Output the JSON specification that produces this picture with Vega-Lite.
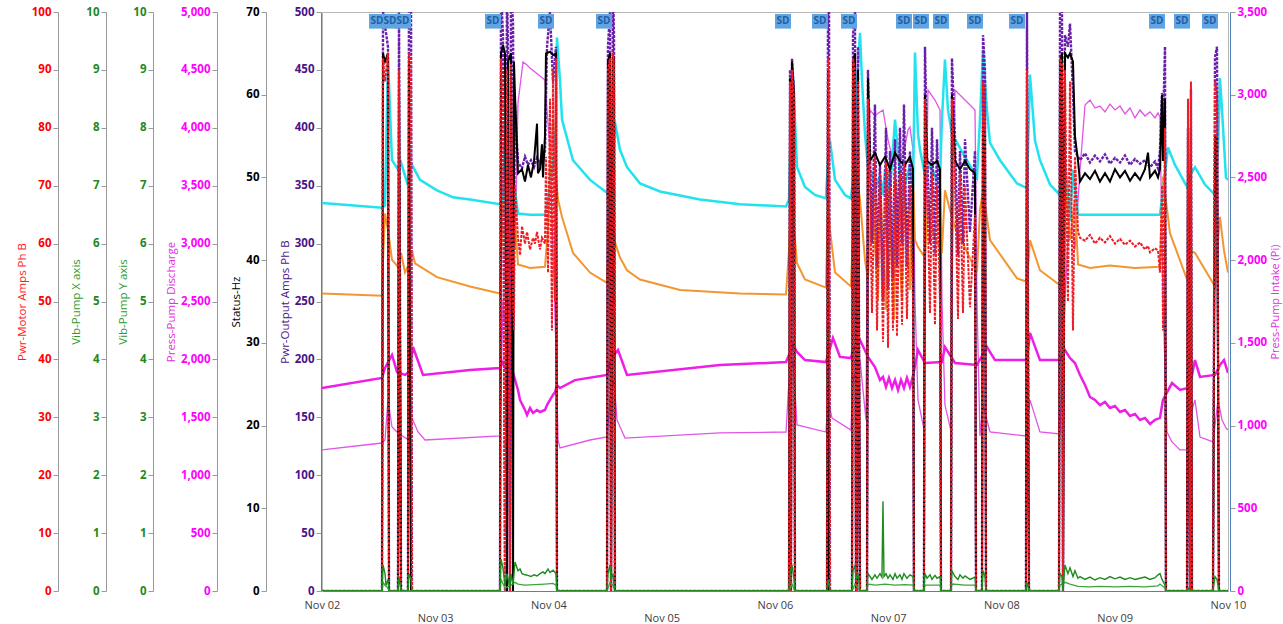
{
"$schema": "https://vega.github.io/schema/vega-lite/v6.json",
"width": 906, "height": 579,
"autosize": {"type": "none"},
"padding": {"left": 322, "top": 12, "right": 55, "bottom": 33},
"background": "white",
"config": {
  "view": {"stroke": "#b8b8b8"},
  "axis": {"grid": false, "domainColor": "#9a9a9a", "tickColor": "#9a9a9a", "tickSize": 5, "labelFont": "Open Sans", "titleFont": "Open Sans", "labelFontWeight": "bold", "labelFontSize": 11.5, "titleFontWeight": "normal", "titleFontSize": 11.5}
},
"encoding": {
  "x": {"field": "time", "type": "temporal", "title": null,
    "scale": {"domain": [{"year": 2023, "month": 11, "date": 2}, {"year": 2023, "month": 11, "date": 10}]},
    "axis": {"format": "%b %d", "tickCount": {"interval": "day", "step": 1}, "ticks": false, "labelFontWeight": "normal", "labelColor": "#404040", "labelFontSize": 11, "domainColor": "#4f81bd", "labelOverlap": false, "labelFlush": false,
      "labelPadding": {"condition": {"test": "date(datum.value) % 2 === 1", "value": 21}, "value": 8}}}
},
"resolve": {"scale": {"y": "independent"}, "axis": {"y": "independent"}},
"layer": [
{
  "data": {"values": [
{"time":"2023-11-02T00:00","value":1218},{"time":"2023-11-02T12:43","value":1278},{"time":"2023-11-02T13:21","value":1304},{"time":"2023-11-02T13:59","value":1650},{"time":"2023-11-02T14:50","value":1416},{"time":"2023-11-02T16:06","value":1364},{"time":"2023-11-02T18:01","value":1313},{"time":"2023-11-02T19:04","value":1494},{"time":"2023-11-02T20:21","value":1373},{"time":"2023-11-02T21:50","value":1304},{"time":"2023-11-03T13:43","value":1339},{"time":"2023-11-03T14:21","value":2513},{"time":"2023-11-03T15:12","value":2081},{"time":"2023-11-03T16:03","value":3377},{"time":"2023-11-03T16:54","value":2945},{"time":"2023-11-03T17:32","value":4214},{"time":"2023-11-03T18:36","value":4568},{"time":"2023-11-03T19:27","value":4542},{"time":"2023-11-03T20:05","value":4517},{"time":"2023-11-03T21:08","value":4482},{"time":"2023-11-03T22:12","value":4448},{"time":"2023-11-03T23:15","value":4413},{"time":"2023-11-03T23:41","value":4154},{"time":"2023-11-04T00:19","value":3808},{"time":"2023-11-04T00:57","value":2945},{"time":"2023-11-04T01:35","value":2081},{"time":"2023-11-04T02:01","value":1304},{"time":"2023-11-04T02:26","value":1235},{"time":"2023-11-04T08:48","value":1304},{"time":"2023-11-04T12:24","value":1330},{"time":"2023-11-04T13:02","value":1650},{"time":"2023-11-04T13:53","value":1822},{"time":"2023-11-04T14:31","value":1477},{"time":"2023-11-04T16:13","value":1321},{"time":"2023-11-05T12:21","value":1365},{"time":"2023-11-06T02:20","value":1373},{"time":"2023-11-06T02:58","value":1822},{"time":"2023-11-06T03:49","value":1995},{"time":"2023-11-06T04:40","value":1434},{"time":"2023-11-06T10:48","value":1373},{"time":"2023-11-06T11:14","value":1650},{"time":"2023-11-06T12:05","value":1494},{"time":"2023-11-06T16:06","value":1390},{"time":"2023-11-06T16:32","value":1822},{"time":"2023-11-06T18:01","value":1995},{"time":"2023-11-06T19:17","value":1477},{"time":"2023-11-06T19:42","value":3808},{"time":"2023-11-06T20:08","value":4154},{"time":"2023-11-06T21:11","value":4100},{"time":"2023-11-06T21:37","value":4120},{"time":"2023-11-06T22:53","value":4154},{"time":"2023-11-06T23:57","value":3895},{"time":"2023-11-07T01:00","value":3722},{"time":"2023-11-07T01:51","value":3765},{"time":"2023-11-07T03:07","value":3749},{"time":"2023-11-07T04:11","value":3981},{"time":"2023-11-07T04:36","value":4007},{"time":"2023-11-07T05:15","value":3808},{"time":"2023-11-07T05:40","value":2513},{"time":"2023-11-07T06:18","value":1650},{"time":"2023-11-07T07:34","value":1400},{"time":"2023-11-07T07:47","value":2513},{"time":"2023-11-07T08:25","value":4326},{"time":"2023-11-07T09:54","value":4240},{"time":"2023-11-07T10:58","value":4154},{"time":"2023-11-07T11:23","value":2513},{"time":"2023-11-07T12:01","value":1606},{"time":"2023-11-07T13:18","value":1380},{"time":"2023-11-07T13:30","value":2513},{"time":"2023-11-07T14:09","value":4326},{"time":"2023-11-07T16:16","value":4240},{"time":"2023-11-07T18:23","value":4154},{"time":"2023-11-07T18:48","value":2513},{"time":"2023-11-07T19:26","value":1339},{"time":"2023-11-07T20:05","value":1606},{"time":"2023-11-07T21:34","value":1373},{"time":"2023-11-08T05:11","value":1339},{"time":"2023-11-08T06:02","value":1650},{"time":"2023-11-08T08:09","value":1373},{"time":"2023-11-08T12:24","value":1356},{"time":"2023-11-08T13:27","value":2513},{"time":"2023-11-08T14:31","value":3377},{"time":"2023-11-08T15:34","value":2945},{"time":"2023-11-08T16:38","value":3636},{"time":"2023-11-08T17:42","value":4197},{"time":"2023-11-08T18:45","value":4240},{"time":"2023-11-08T19:49","value":4171},{"time":"2023-11-08T20:52","value":4188},{"time":"2023-11-08T21:56","value":4137},{"time":"2023-11-08T22:59","value":4205},{"time":"2023-11-09T00:03","value":4154},{"time":"2023-11-09T01:07","value":4188},{"time":"2023-11-09T02:10","value":4120},{"time":"2023-11-09T03:14","value":4171},{"time":"2023-11-09T04:17","value":4085},{"time":"2023-11-09T05:21","value":4154},{"time":"2023-11-09T06:24","value":4102},{"time":"2023-11-09T07:28","value":4137},{"time":"2023-11-09T08:32","value":4085},{"time":"2023-11-09T09:10","value":4128},{"time":"2023-11-09T09:35","value":4093},{"time":"2023-11-09T10:13","value":2513},{"time":"2023-11-09T11:04","value":1373},{"time":"2023-11-09T12:08","value":1287},{"time":"2023-11-09T13:50","value":1218},{"time":"2023-11-09T15:31","value":1218},{"time":"2023-11-09T16:22","value":1563},{"time":"2023-11-09T17:00","value":1650},{"time":"2023-11-09T18:04","value":1330},{"time":"2023-11-09T20:49","value":1287},{"time":"2023-11-09T21:53","value":1650},{"time":"2023-11-09T22:44","value":1477},{"time":"2023-11-09T23:34","value":1408},{"time":"2023-11-10T00:00","value":1390}
  ]},
  "mark": {"type": "line", "color": "#e255e6", "strokeWidth": 1.3, "clip": true},
  "encoding": {"y": {"field": "value", "type": "quantitative", "scale": {"domain": [0, 5000], "nice": false},
    "axis": {"orient": "left", "offset": 105, "title": "Press-Pump Discharge", "values": [0,500,1000,1500,2000,2500,3000,3500,4000,4500,5000], "format": ",.0f", "labelColor": "#ff00ff", "titleColor": "#e030e0"}}}
},
{
  "data": {"values": [
{"time":"2023-11-02T00:00","value":257},{"time":"2023-11-02T12:43","value":255},{"time":"2023-11-02T12:56","value":286},{"time":"2023-11-02T13:21","value":326},{"time":"2023-11-02T13:59","value":312},{"time":"2023-11-02T14:50","value":286},{"time":"2023-11-02T16:06","value":280},{"time":"2023-11-02T16:45","value":292},{"time":"2023-11-02T17:35","value":275},{"time":"2023-11-02T18:26","value":282},{"time":"2023-11-02T19:04","value":294},{"time":"2023-11-02T19:42","value":283},{"time":"2023-11-03T00:22","value":271},{"time":"2023-11-03T07:22","value":263},{"time":"2023-11-03T13:43","value":257},{"time":"2023-11-03T14:09","value":312},{"time":"2023-11-03T14:47","value":398},{"time":"2023-11-03T15:25","value":338},{"time":"2023-11-03T16:03","value":381},{"time":"2023-11-03T16:54","value":320},{"time":"2023-11-03T17:32","value":282},{"time":"2023-11-03T20:05","value":279},{"time":"2023-11-03T23:15","value":280},{"time":"2023-11-03T23:54","value":312},{"time":"2023-11-04T00:19","value":364},{"time":"2023-11-04T00:57","value":407},{"time":"2023-11-04T01:35","value":358},{"time":"2023-11-04T02:01","value":338},{"time":"2023-11-04T02:52","value":323},{"time":"2023-11-04T05:11","value":292},{"time":"2023-11-04T08:48","value":275},{"time":"2023-11-04T12:24","value":266},{"time":"2023-11-04T12:49","value":312},{"time":"2023-11-04T13:27","value":326},{"time":"2023-11-04T14:05","value":301},{"time":"2023-11-04T15:09","value":288},{"time":"2023-11-04T16:38","value":277},{"time":"2023-11-04T19:23","value":269},{"time":"2023-11-05T03:52","value":260},{"time":"2023-11-05T16:35","value":257},{"time":"2023-11-06T02:20","value":256},{"time":"2023-11-06T02:58","value":294},{"time":"2023-11-06T03:23","value":338},{"time":"2023-11-06T04:14","value":303},{"time":"2023-11-06T04:40","value":283},{"time":"2023-11-06T06:21","value":269},{"time":"2023-11-06T10:48","value":262},{"time":"2023-11-06T11:14","value":338},{"time":"2023-11-06T11:39","value":312},{"time":"2023-11-06T12:43","value":275},{"time":"2023-11-06T16:06","value":263},{"time":"2023-11-06T16:32","value":312},{"time":"2023-11-06T17:10","value":364},{"time":"2023-11-06T18:01","value":338},{"time":"2023-11-06T19:04","value":286},{"time":"2023-11-06T19:42","value":269},{"time":"2023-11-06T20:33","value":346},{"time":"2023-11-06T21:50","value":251},{"time":"2023-11-06T22:15","value":355},{"time":"2023-11-06T23:31","value":243},{"time":"2023-11-06T23:57","value":364},{"time":"2023-11-07T01:13","value":234},{"time":"2023-11-07T01:38","value":355},{"time":"2023-11-07T02:55","value":251},{"time":"2023-11-07T03:20","value":359},{"time":"2023-11-07T04:36","value":260},{"time":"2023-11-07T05:15","value":359},{"time":"2023-11-07T05:40","value":303},{"time":"2023-11-07T06:18","value":297},{"time":"2023-11-07T07:47","value":288},{"time":"2023-11-07T08:25","value":338},{"time":"2023-11-07T08:51","value":318},{"time":"2023-11-07T10:20","value":301},{"time":"2023-11-07T11:23","value":294},{"time":"2023-11-07T12:01","value":346},{"time":"2023-11-07T13:05","value":329},{"time":"2023-11-07T14:09","value":314},{"time":"2023-11-07T18:48","value":275},{"time":"2023-11-07T19:26","value":329},{"time":"2023-11-07T20:05","value":346},{"time":"2023-11-07T21:34","value":303},{"time":"2023-11-08T03:17","value":270},{"time":"2023-11-08T05:24","value":267},{"time":"2023-11-08T06:02","value":303},{"time":"2023-11-08T08:09","value":277},{"time":"2023-11-08T12:24","value":264},{"time":"2023-11-08T12:49","value":312},{"time":"2023-11-08T13:27","value":355},{"time":"2023-11-08T14:31","value":303},{"time":"2023-11-08T15:34","value":338},{"time":"2023-11-08T16:13","value":282},{"time":"2023-11-08T18:45","value":279},{"time":"2023-11-08T22:59","value":281},{"time":"2023-11-09T04:17","value":279},{"time":"2023-11-09T09:35","value":280},{"time":"2023-11-09T10:13","value":358},{"time":"2023-11-09T11:42","value":309},{"time":"2023-11-09T15:19","value":269},{"time":"2023-11-09T15:57","value":294},{"time":"2023-11-09T17:00","value":292},{"time":"2023-11-09T21:15","value":263},{"time":"2023-11-09T21:53","value":303},{"time":"2023-11-09T22:18","value":323},{"time":"2023-11-09T23:09","value":294},{"time":"2023-11-10T00:00","value":275}
  ]},
  "mark": {"type": "line", "color": "#f39530", "strokeWidth": 2, "clip": true},
  "encoding": {"y": {"field": "value", "type": "quantitative", "scale": {"domain": [0, 500], "nice": false}, "axis": null}}
},
{
  "data": {"values": [
{"time":"2023-11-02T00:00","value":335},{"time":"2023-11-02T12:43","value":331},{"time":"2023-11-02T13:21","value":333},{"time":"2023-11-02T13:59","value":459},{"time":"2023-11-02T14:50","value":372},{"time":"2023-11-02T16:06","value":364},{"time":"2023-11-02T16:45","value":370},{"time":"2023-11-02T18:01","value":353},{"time":"2023-11-02T19:04","value":368},{"time":"2023-11-02T20:46","value":355},{"time":"2023-11-03T00:22","value":346},{"time":"2023-11-03T03:46","value":340},{"time":"2023-11-03T07:22","value":338},{"time":"2023-11-03T13:43","value":334},{"time":"2023-11-03T14:09","value":338},{"time":"2023-11-03T14:47","value":381},{"time":"2023-11-03T15:50","value":364},{"time":"2023-11-03T16:54","value":346},{"time":"2023-11-03T17:32","value":326},{"time":"2023-11-03T20:05","value":325},{"time":"2023-11-03T23:15","value":325},{"time":"2023-11-03T23:54","value":338},{"time":"2023-11-04T00:44","value":359},{"time":"2023-11-04T01:35","value":398},{"time":"2023-11-04T01:48","value":478},{"time":"2023-11-04T02:26","value":441},{"time":"2023-11-04T02:52","value":407},{"time":"2023-11-04T05:11","value":372},{"time":"2023-11-04T08:48","value":355},{"time":"2023-11-04T12:24","value":344},{"time":"2023-11-04T12:49","value":338},{"time":"2023-11-04T13:27","value":346},{"time":"2023-11-04T14:05","value":405},{"time":"2023-11-04T15:09","value":381},{"time":"2023-11-04T16:38","value":366},{"time":"2023-11-04T19:23","value":352},{"time":"2023-11-04T23:38","value":345},{"time":"2023-11-05T08:06","value":338},{"time":"2023-11-05T16:35","value":334},{"time":"2023-11-06T02:20","value":332},{"time":"2023-11-06T02:58","value":338},{"time":"2023-11-06T03:23","value":407},{"time":"2023-11-06T03:49","value":444},{"time":"2023-11-06T04:14","value":407},{"time":"2023-11-06T04:40","value":366},{"time":"2023-11-06T06:21","value":349},{"time":"2023-11-06T08:28","value":342},{"time":"2023-11-06T10:48","value":339},{"time":"2023-11-06T11:14","value":372},{"time":"2023-11-06T11:39","value":389},{"time":"2023-11-06T12:43","value":355},{"time":"2023-11-06T14:50","value":342},{"time":"2023-11-06T16:06","value":339},{"time":"2023-11-06T16:32","value":355},{"time":"2023-11-06T17:10","value":424},{"time":"2023-11-06T18:01","value":482},{"time":"2023-11-06T18:26","value":441},{"time":"2023-11-06T19:04","value":395},{"time":"2023-11-06T19:42","value":366},{"time":"2023-11-06T20:33","value":361},{"time":"2023-11-06T21:11","value":346},{"time":"2023-11-06T22:15","value":359},{"time":"2023-11-06T22:53","value":342},{"time":"2023-11-06T23:19","value":364},{"time":"2023-11-07T00:22","value":346},{"time":"2023-11-07T01:26","value":407},{"time":"2023-11-07T02:29","value":359},{"time":"2023-11-07T03:33","value":351},{"time":"2023-11-07T04:36","value":368},{"time":"2023-11-07T05:15","value":346},{"time":"2023-11-07T05:40","value":465},{"time":"2023-11-07T06:18","value":395},{"time":"2023-11-07T06:44","value":381},{"time":"2023-11-07T07:47","value":359},{"time":"2023-11-07T08:51","value":368},{"time":"2023-11-07T10:20","value":355},{"time":"2023-11-07T10:58","value":357},{"time":"2023-11-07T11:23","value":407},{"time":"2023-11-07T12:01","value":459},{"time":"2023-11-07T12:40","value":415},{"time":"2023-11-07T13:30","value":395},{"time":"2023-11-07T15:50","value":378},{"time":"2023-11-07T18:48","value":357},{"time":"2023-11-07T19:26","value":407},{"time":"2023-11-07T20:05","value":467},{"time":"2023-11-07T20:55","value":415},{"time":"2023-11-07T21:34","value":387},{"time":"2023-11-07T23:41","value":372},{"time":"2023-11-08T03:17","value":352},{"time":"2023-11-08T05:24","value":348},{"time":"2023-11-08T06:02","value":446},{"time":"2023-11-08T07:06","value":389},{"time":"2023-11-08T08:09","value":372},{"time":"2023-11-08T10:17","value":351},{"time":"2023-11-08T12:24","value":342},{"time":"2023-11-08T12:49","value":398},{"time":"2023-11-08T13:27","value":372},{"time":"2023-11-08T14:31","value":320},{"time":"2023-11-08T15:09","value":364},{"time":"2023-11-08T16:13","value":325},{"time":"2023-11-08T20:52","value":325},{"time":"2023-11-09T03:14","value":325},{"time":"2023-11-09T09:35","value":325},{"time":"2023-11-09T10:13","value":346},{"time":"2023-11-09T11:17","value":383},{"time":"2023-11-09T12:46","value":368},{"time":"2023-11-09T15:19","value":349},{"time":"2023-11-09T15:57","value":359},{"time":"2023-11-09T17:00","value":366},{"time":"2023-11-09T19:07","value":351},{"time":"2023-11-09T21:15","value":342},{"time":"2023-11-09T21:53","value":381},{"time":"2023-11-09T22:18","value":443},{"time":"2023-11-09T22:44","value":415},{"time":"2023-11-09T23:34","value":357},{"time":"2023-11-10T00:00","value":355}
  ]},
  "mark": {"type": "line", "color": "#22e2ee", "strokeWidth": 2.5, "clip": true},
  "encoding": {"y": {"field": "value", "type": "quantitative", "scale": {"domain": [0, 500], "nice": false}, "axis": null}}
},
{
  "data": {"values": [
{"time":"2023-11-02T00:00","value":1227},{"time":"2023-11-02T12:43","value":1288},{"time":"2023-11-02T13:21","value":1348},{"time":"2023-11-02T14:50","value":1427},{"time":"2023-11-02T15:54","value":1324},{"time":"2023-11-02T17:35","value":1306},{"time":"2023-11-02T18:26","value":1324},{"time":"2023-11-02T19:17","value":1475},{"time":"2023-11-02T21:24","value":1306},{"time":"2023-11-03T07:22","value":1336},{"time":"2023-11-03T13:43","value":1348},{"time":"2023-11-03T14:09","value":1384},{"time":"2023-11-03T14:47","value":1348},{"time":"2023-11-03T15:50","value":1396},{"time":"2023-11-03T16:29","value":1318},{"time":"2023-11-03T17:32","value":1215},{"time":"2023-11-03T17:58","value":1155},{"time":"2023-11-03T19:01","value":1094},{"time":"2023-11-03T19:27","value":1064},{"time":"2023-11-03T20:05","value":1106},{"time":"2023-11-03T20:43","value":1076},{"time":"2023-11-03T21:34","value":1094},{"time":"2023-11-03T22:12","value":1082},{"time":"2023-11-03T23:15","value":1094},{"time":"2023-11-03T23:41","value":1124},{"time":"2023-11-04T00:19","value":1155},{"time":"2023-11-04T00:57","value":1185},{"time":"2023-11-04T01:23","value":1203},{"time":"2023-11-04T01:48","value":1245},{"time":"2023-11-04T02:26","value":1227},{"time":"2023-11-04T05:37","value":1275},{"time":"2023-11-04T12:24","value":1306},{"time":"2023-11-04T13:02","value":1384},{"time":"2023-11-04T13:53","value":1427},{"time":"2023-11-04T14:44","value":1457},{"time":"2023-11-04T16:38","value":1306},{"time":"2023-11-05T12:21","value":1366},{"time":"2023-11-06T02:20","value":1384},{"time":"2023-11-06T02:58","value":1427},{"time":"2023-11-06T03:49","value":1487},{"time":"2023-11-06T04:40","value":1445},{"time":"2023-11-06T06:21","value":1396},{"time":"2023-11-06T10:48","value":1384},{"time":"2023-11-06T11:14","value":1427},{"time":"2023-11-06T12:17","value":1529},{"time":"2023-11-06T13:46","value":1415},{"time":"2023-11-06T16:06","value":1408},{"time":"2023-11-06T16:32","value":1457},{"time":"2023-11-06T18:01","value":1517},{"time":"2023-11-06T19:42","value":1415},{"time":"2023-11-06T21:11","value":1354},{"time":"2023-11-06T22:15","value":1276},{"time":"2023-11-06T22:53","value":1294},{"time":"2023-11-06T23:31","value":1233},{"time":"2023-11-07T00:09","value":1288},{"time":"2023-11-07T00:48","value":1227},{"time":"2023-11-07T01:26","value":1276},{"time":"2023-11-07T02:04","value":1215},{"time":"2023-11-07T02:42","value":1276},{"time":"2023-11-07T03:20","value":1227},{"time":"2023-11-07T03:58","value":1288},{"time":"2023-11-07T04:36","value":1233},{"time":"2023-11-07T05:15","value":1300},{"time":"2023-11-07T06:18","value":1457},{"time":"2023-11-07T07:47","value":1378},{"time":"2023-11-07T11:23","value":1384},{"time":"2023-11-07T12:01","value":1475},{"time":"2023-11-07T14:09","value":1378},{"time":"2023-11-07T18:48","value":1366},{"time":"2023-11-07T20:55","value":1475},{"time":"2023-11-07T22:37","value":1396},{"time":"2023-11-08T05:24","value":1396},{"time":"2023-11-08T06:02","value":1560},{"time":"2023-11-08T08:09","value":1396},{"time":"2023-11-08T12:24","value":1396},{"time":"2023-11-08T13:27","value":1457},{"time":"2023-11-08T14:31","value":1408},{"time":"2023-11-08T15:34","value":1378},{"time":"2023-11-08T16:38","value":1306},{"time":"2023-11-08T17:42","value":1245},{"time":"2023-11-08T18:45","value":1173},{"time":"2023-11-08T19:49","value":1155},{"time":"2023-11-08T20:52","value":1124},{"time":"2023-11-08T21:56","value":1143},{"time":"2023-11-08T22:59","value":1106},{"time":"2023-11-09T00:03","value":1118},{"time":"2023-11-09T01:07","value":1082},{"time":"2023-11-09T02:10","value":1094},{"time":"2023-11-09T03:14","value":1058},{"time":"2023-11-09T04:17","value":1070},{"time":"2023-11-09T05:21","value":1034},{"time":"2023-11-09T06:24","value":1046},{"time":"2023-11-09T07:28","value":1010},{"time":"2023-11-09T08:32","value":1034},{"time":"2023-11-09T09:35","value":1046},{"time":"2023-11-09T10:13","value":1155},{"time":"2023-11-09T12:08","value":1257},{"time":"2023-11-09T13:50","value":1215},{"time":"2023-11-09T15:31","value":1227},{"time":"2023-11-09T15:57","value":1245},{"time":"2023-11-09T17:00","value":1396},{"time":"2023-11-09T18:04","value":1294},{"time":"2023-11-09T21:15","value":1306},{"time":"2023-11-09T22:18","value":1366},{"time":"2023-11-09T23:09","value":1396},{"time":"2023-11-10T00:00","value":1318}
  ]},
  "mark": {"type": "line", "color": "#ee1ee6", "strokeWidth": 2.5, "clip": true},
  "encoding": {"y": {"field": "value", "type": "quantitative", "scale": {"domain": [0, 3500], "nice": false},
    "axis": {"orient": "right", "offset": 2, "title": "Press-Pump Intake (Pi)", "titleAngle": 270, "titleBaseline": "top", "titlePadding": 3, "titleFontSize": 11, "values": [0,500,1000,1500,2000,2500,3000,3500], "format": ",.0f", "labelColor": "#ff00ff", "titleColor": "#e030e0", "domainColor": "#4f81bd"}}}
},
{
  "data": {"values": [
{"time":"2023-11-02T00:00","value":0},{"time":"2023-11-02T12:43","value":0},{"time":"2023-11-02T12:56","value":500},{"time":"2023-11-02T13:59","value":470},{"time":"2023-11-02T14:12","value":0},{"time":"2023-11-02T16:06","value":0},{"time":"2023-11-02T16:19","value":505},{"time":"2023-11-02T16:45","value":0},{"time":"2023-11-02T18:13","value":0},{"time":"2023-11-02T18:26","value":520},{"time":"2023-11-02T18:52","value":510},{"time":"2023-11-02T19:04","value":0},{"time":"2023-11-03T13:43","value":0},{"time":"2023-11-03T13:56","value":520},{"time":"2023-11-03T14:21","value":480},{"time":"2023-11-03T14:47","value":0},{"time":"2023-11-03T15:12","value":520},{"time":"2023-11-03T15:25","value":470},{"time":"2023-11-03T15:50","value":0},{"time":"2023-11-03T16:03","value":520},{"time":"2023-11-03T16:29","value":490},{"time":"2023-11-03T16:41","value":300},{"time":"2023-11-03T16:54","value":420},{"time":"2023-11-03T17:32","value":370},{"time":"2023-11-03T18:23","value":365},{"time":"2023-11-03T19:01","value":375},{"time":"2023-11-03T19:39","value":368},{"time":"2023-11-03T20:17","value":372},{"time":"2023-11-03T20:56","value":366},{"time":"2023-11-03T21:34","value":374},{"time":"2023-11-03T22:12","value":369},{"time":"2023-11-03T22:50","value":372},{"time":"2023-11-03T23:15","value":380},{"time":"2023-11-03T23:41","value":470},{"time":"2023-11-04T00:19","value":500},{"time":"2023-11-04T00:57","value":440},{"time":"2023-11-04T01:35","value":470},{"time":"2023-11-04T01:48","value":0},{"time":"2023-11-04T12:24","value":0},{"time":"2023-11-04T12:36","value":470},{"time":"2023-11-04T13:02","value":500},{"time":"2023-11-04T13:15","value":0},{"time":"2023-11-04T13:40","value":520},{"time":"2023-11-04T13:53","value":480},{"time":"2023-11-04T14:05","value":0},{"time":"2023-11-06T02:58","value":0},{"time":"2023-11-06T03:11","value":450},{"time":"2023-11-06T03:23","value":0},{"time":"2023-11-06T03:36","value":460},{"time":"2023-11-06T04:02","value":430},{"time":"2023-11-06T04:14","value":0},{"time":"2023-11-06T11:01","value":0},{"time":"2023-11-06T11:14","value":520},{"time":"2023-11-06T11:27","value":510},{"time":"2023-11-06T11:39","value":0},{"time":"2023-11-06T16:19","value":0},{"time":"2023-11-06T16:32","value":480},{"time":"2023-11-06T16:57","value":500},{"time":"2023-11-06T17:10","value":0},{"time":"2023-11-06T17:23","value":0},{"time":"2023-11-06T17:35","value":470},{"time":"2023-11-06T18:01","value":0},{"time":"2023-11-06T19:30","value":0},{"time":"2023-11-06T19:42","value":450},{"time":"2023-11-06T20:08","value":380},{"time":"2023-11-06T20:33","value":300},{"time":"2023-11-06T21:11","value":420},{"time":"2023-11-06T21:37","value":280},{"time":"2023-11-06T22:15","value":370},{"time":"2023-11-06T22:53","value":250},{"time":"2023-11-06T23:31","value":400},{"time":"2023-11-06T23:57","value":260},{"time":"2023-11-07T00:22","value":380},{"time":"2023-11-07T01:00","value":270},{"time":"2023-11-07T01:26","value":390},{"time":"2023-11-07T01:51","value":280},{"time":"2023-11-07T02:29","value":400},{"time":"2023-11-07T02:55","value":300},{"time":"2023-11-07T03:20","value":420},{"time":"2023-11-07T03:58","value":280},{"time":"2023-11-07T04:36","value":380},{"time":"2023-11-07T05:15","value":300},{"time":"2023-11-07T05:27","value":0},{"time":"2023-11-07T07:34","value":0},{"time":"2023-11-07T07:47","value":470},{"time":"2023-11-07T08:13","value":380},{"time":"2023-11-07T08:51","value":300},{"time":"2023-11-07T09:16","value":400},{"time":"2023-11-07T09:54","value":290},{"time":"2023-11-07T10:20","value":390},{"time":"2023-11-07T10:58","value":300},{"time":"2023-11-07T11:11","value":0},{"time":"2023-11-07T13:18","value":0},{"time":"2023-11-07T13:30","value":460},{"time":"2023-11-07T14:09","value":390},{"time":"2023-11-07T14:47","value":290},{"time":"2023-11-07T15:12","value":380},{"time":"2023-11-07T15:50","value":300},{"time":"2023-11-07T16:16","value":390},{"time":"2023-11-07T17:19","value":310},{"time":"2023-11-07T18:23","value":380},{"time":"2023-11-07T18:36","value":0},{"time":"2023-11-07T19:52","value":0},{"time":"2023-11-07T20:05","value":480},{"time":"2023-11-07T20:30","value":450},{"time":"2023-11-07T20:43","value":0},{"time":"2023-11-08T05:11","value":0},{"time":"2023-11-08T05:24","value":500},{"time":"2023-11-08T05:50","value":0},{"time":"2023-11-08T12:11","value":0},{"time":"2023-11-08T12:24","value":500},{"time":"2023-11-08T12:49","value":510},{"time":"2023-11-08T13:02","value":0},{"time":"2023-11-08T13:27","value":480},{"time":"2023-11-08T14:05","value":470},{"time":"2023-11-08T14:31","value":490},{"time":"2023-11-08T15:09","value":430},{"time":"2023-11-08T15:34","value":380},{"time":"2023-11-08T16:13","value":375},{"time":"2023-11-08T16:38","value":372},{"time":"2023-11-08T17:42","value":378},{"time":"2023-11-08T18:45","value":370},{"time":"2023-11-08T19:49","value":376},{"time":"2023-11-08T20:52","value":371},{"time":"2023-11-08T21:56","value":377},{"time":"2023-11-08T22:59","value":369},{"time":"2023-11-09T00:03","value":374},{"time":"2023-11-09T01:07","value":370},{"time":"2023-11-09T02:10","value":376},{"time":"2023-11-09T03:14","value":368},{"time":"2023-11-09T04:17","value":373},{"time":"2023-11-09T05:21","value":369},{"time":"2023-11-09T06:24","value":372},{"time":"2023-11-09T07:28","value":366},{"time":"2023-11-09T08:32","value":371},{"time":"2023-11-09T09:10","value":365},{"time":"2023-11-09T09:35","value":380},{"time":"2023-11-09T10:01","value":430},{"time":"2023-11-09T10:13","value":400},{"time":"2023-11-09T10:39","value":470},{"time":"2023-11-09T10:51","value":0},{"time":"2023-11-09T15:19","value":0},{"time":"2023-11-09T15:31","value":400},{"time":"2023-11-09T15:57","value":0},{"time":"2023-11-09T16:09","value":433},{"time":"2023-11-09T16:22","value":0},{"time":"2023-11-09T20:49","value":0},{"time":"2023-11-09T21:15","value":461},{"time":"2023-11-09T21:40","value":470},{"time":"2023-11-09T22:05","value":0},{"time":"2023-11-10T00:00","value":0}
  ]},
  "mark": {"type": "line", "color": "#6a1fa8", "strokeWidth": 2.4, "strokeDash": [3, 1.2], "clip": true},
  "encoding": {"y": {"field": "value", "type": "quantitative", "scale": {"domain": [0, 500], "nice": false},
    "axis": {"orient": "left", "offset": 1, "title": "Pwr-Output Amps Ph B", "values": [0,50,100,150,200,250,300,350,400,450,500], "labelColor": "#4a1488", "titleColor": "#4a1488", "domainColor": "#4f81bd"}}}
},
{
  "data": {"values": [
{"time":"2023-11-02T00:00","value":0},{"time":"2023-11-02T12:43","value":0},{"time":"2023-11-02T12:56","value":65},{"time":"2023-11-02T13:21","value":64},{"time":"2023-11-02T13:59","value":65},{"time":"2023-11-02T14:12","value":0},{"time":"2023-11-02T16:06","value":0},{"time":"2023-11-02T16:19","value":63},{"time":"2023-11-02T16:45","value":0},{"time":"2023-11-02T18:13","value":0},{"time":"2023-11-02T18:26","value":64},{"time":"2023-11-02T18:52","value":0},{"time":"2023-11-03T13:43","value":0},{"time":"2023-11-03T13:56","value":65},{"time":"2023-11-03T14:21","value":66},{"time":"2023-11-03T14:47","value":65},{"time":"2023-11-03T15:12","value":0},{"time":"2023-11-03T15:25","value":64},{"time":"2023-11-03T16:03","value":65},{"time":"2023-11-03T16:29","value":0},{"time":"2023-11-03T16:41","value":64},{"time":"2023-11-03T16:54","value":60},{"time":"2023-11-03T17:32","value":50.5},{"time":"2023-11-03T18:23","value":51},{"time":"2023-11-03T19:01","value":49.5},{"time":"2023-11-03T19:39","value":51.5},{"time":"2023-11-03T20:17","value":50},{"time":"2023-11-03T20:56","value":52},{"time":"2023-11-03T21:34","value":56.5},{"time":"2023-11-03T21:46","value":50.5},{"time":"2023-11-03T22:12","value":51},{"time":"2023-11-03T22:37","value":54},{"time":"2023-11-03T22:50","value":50},{"time":"2023-11-03T23:15","value":55},{"time":"2023-11-03T23:28","value":65},{"time":"2023-11-04T00:19","value":65.2},{"time":"2023-11-04T00:57","value":64.8},{"time":"2023-11-04T01:35","value":65},{"time":"2023-11-04T01:48","value":0},{"time":"2023-11-04T12:24","value":0},{"time":"2023-11-04T12:36","value":64},{"time":"2023-11-04T13:02","value":65},{"time":"2023-11-04T13:15","value":0},{"time":"2023-11-04T13:40","value":65},{"time":"2023-11-04T13:53","value":64},{"time":"2023-11-04T14:05","value":0},{"time":"2023-11-06T02:58","value":0},{"time":"2023-11-06T03:11","value":62},{"time":"2023-11-06T03:23","value":0},{"time":"2023-11-06T03:36","value":64},{"time":"2023-11-06T04:02","value":60},{"time":"2023-11-06T04:14","value":0},{"time":"2023-11-06T11:01","value":0},{"time":"2023-11-06T11:14","value":63},{"time":"2023-11-06T11:27","value":0},{"time":"2023-11-06T16:19","value":0},{"time":"2023-11-06T16:32","value":64},{"time":"2023-11-06T16:57","value":65},{"time":"2023-11-06T17:10","value":0},{"time":"2023-11-06T17:23","value":0},{"time":"2023-11-06T17:35","value":63},{"time":"2023-11-06T18:01","value":0},{"time":"2023-11-06T19:30","value":0},{"time":"2023-11-06T19:42","value":62},{"time":"2023-11-06T20:08","value":52},{"time":"2023-11-06T21:11","value":53},{"time":"2023-11-06T22:15","value":51.5},{"time":"2023-11-06T23:19","value":52.5},{"time":"2023-11-07T00:22","value":51},{"time":"2023-11-07T01:26","value":53},{"time":"2023-11-07T02:29","value":52},{"time":"2023-11-07T03:33","value":51.5},{"time":"2023-11-07T04:36","value":52.5},{"time":"2023-11-07T05:15","value":51},{"time":"2023-11-07T05:27","value":0},{"time":"2023-11-07T07:34","value":0},{"time":"2023-11-07T07:47","value":60},{"time":"2023-11-07T08:13","value":52},{"time":"2023-11-07T09:16","value":51.5},{"time":"2023-11-07T10:20","value":52},{"time":"2023-11-07T10:58","value":51},{"time":"2023-11-07T11:11","value":0},{"time":"2023-11-07T13:18","value":0},{"time":"2023-11-07T13:30","value":60},{"time":"2023-11-07T14:09","value":52},{"time":"2023-11-07T15:12","value":51},{"time":"2023-11-07T16:16","value":52},{"time":"2023-11-07T17:19","value":51},{"time":"2023-11-07T18:23","value":50.5},{"time":"2023-11-07T18:36","value":0},{"time":"2023-11-07T19:52","value":0},{"time":"2023-11-07T20:05","value":56},{"time":"2023-11-07T20:30","value":55},{"time":"2023-11-07T20:43","value":0},{"time":"2023-11-08T05:11","value":0},{"time":"2023-11-08T05:24","value":58},{"time":"2023-11-08T05:50","value":0},{"time":"2023-11-08T12:11","value":0},{"time":"2023-11-08T12:24","value":64},{"time":"2023-11-08T12:49","value":65},{"time":"2023-11-08T13:02","value":0},{"time":"2023-11-08T13:27","value":65},{"time":"2023-11-08T14:05","value":64.5},{"time":"2023-11-08T14:31","value":65},{"time":"2023-11-08T15:09","value":64},{"time":"2023-11-08T15:34","value":55},{"time":"2023-11-08T16:13","value":52},{"time":"2023-11-08T16:38","value":49.5},{"time":"2023-11-08T17:42","value":50.5},{"time":"2023-11-08T18:45","value":49.8},{"time":"2023-11-08T19:49","value":50.8},{"time":"2023-11-08T20:52","value":49.5},{"time":"2023-11-08T21:56","value":50.5},{"time":"2023-11-08T22:59","value":49.5},{"time":"2023-11-09T00:03","value":51},{"time":"2023-11-09T01:07","value":50},{"time":"2023-11-09T02:10","value":50.8},{"time":"2023-11-09T03:14","value":49.6},{"time":"2023-11-09T04:17","value":50.5},{"time":"2023-11-09T05:21","value":49.7},{"time":"2023-11-09T06:24","value":51},{"time":"2023-11-09T07:03","value":53},{"time":"2023-11-09T07:28","value":50},{"time":"2023-11-09T08:32","value":50.8},{"time":"2023-11-09T09:10","value":50},{"time":"2023-11-09T09:35","value":51},{"time":"2023-11-09T10:01","value":60},{"time":"2023-11-09T10:13","value":52},{"time":"2023-11-09T10:39","value":59.5},{"time":"2023-11-09T10:51","value":0},{"time":"2023-11-09T15:19","value":0},{"time":"2023-11-09T15:31","value":55},{"time":"2023-11-09T15:57","value":0},{"time":"2023-11-09T16:09","value":56},{"time":"2023-11-09T16:22","value":0},{"time":"2023-11-09T20:49","value":0},{"time":"2023-11-09T21:15","value":55},{"time":"2023-11-09T21:40","value":54.9},{"time":"2023-11-09T22:05","value":0},{"time":"2023-11-10T00:00","value":0}
  ]},
  "mark": {"type": "line", "color": "#000000", "strokeWidth": 2, "clip": true},
  "encoding": {"y": {"field": "value", "type": "quantitative", "scale": {"domain": [0, 70], "nice": false},
    "axis": {"orient": "left", "offset": 56, "title": "Status-Hz", "values": [0,10,20,30,40,50,60,70], "labelColor": "#000000", "titleColor": "#000000"}}}
},
{
  "data": {"values": [
{"time":"2023-11-02T00:00","value":0},{"time":"2023-11-02T12:43","value":0},{"time":"2023-11-02T12:56","value":92},{"time":"2023-11-02T13:21","value":88},{"time":"2023-11-02T13:59","value":93},{"time":"2023-11-02T14:12","value":0},{"time":"2023-11-02T16:06","value":0},{"time":"2023-11-02T16:19","value":90},{"time":"2023-11-02T16:45","value":0},{"time":"2023-11-02T18:13","value":0},{"time":"2023-11-02T18:26","value":93},{"time":"2023-11-02T18:52","value":92},{"time":"2023-11-02T19:04","value":0},{"time":"2023-11-03T13:43","value":0},{"time":"2023-11-03T13:56","value":92},{"time":"2023-11-03T14:21","value":85},{"time":"2023-11-03T14:47","value":0},{"time":"2023-11-03T15:12","value":90},{"time":"2023-11-03T15:25","value":60},{"time":"2023-11-03T15:50","value":0},{"time":"2023-11-03T16:03","value":91},{"time":"2023-11-03T16:29","value":50},{"time":"2023-11-03T16:41","value":45},{"time":"2023-11-03T16:54","value":70},{"time":"2023-11-03T17:32","value":61},{"time":"2023-11-03T17:58","value":58},{"time":"2023-11-03T18:23","value":63},{"time":"2023-11-03T19:01","value":60},{"time":"2023-11-03T19:27","value":62},{"time":"2023-11-03T20:05","value":59},{"time":"2023-11-03T20:43","value":61},{"time":"2023-11-03T21:08","value":60},{"time":"2023-11-03T21:34","value":62},{"time":"2023-11-03T22:12","value":59},{"time":"2023-11-03T22:37","value":61},{"time":"2023-11-03T23:15","value":60},{"time":"2023-11-03T23:28","value":75},{"time":"2023-11-03T23:54","value":55},{"time":"2023-11-04T00:19","value":85},{"time":"2023-11-04T00:44","value":45},{"time":"2023-11-04T00:57","value":90},{"time":"2023-11-04T01:23","value":50},{"time":"2023-11-04T01:35","value":92},{"time":"2023-11-04T01:48","value":0},{"time":"2023-11-04T12:24","value":0},{"time":"2023-11-04T12:36","value":90},{"time":"2023-11-04T13:02","value":92},{"time":"2023-11-04T13:15","value":0},{"time":"2023-11-04T13:40","value":93},{"time":"2023-11-04T13:53","value":91},{"time":"2023-11-04T14:05","value":0},{"time":"2023-11-06T02:58","value":0},{"time":"2023-11-06T03:11","value":88},{"time":"2023-11-06T03:23","value":0},{"time":"2023-11-06T03:36","value":90},{"time":"2023-11-06T04:02","value":85},{"time":"2023-11-06T04:14","value":0},{"time":"2023-11-06T11:01","value":0},{"time":"2023-11-06T11:14","value":92},{"time":"2023-11-06T11:27","value":90},{"time":"2023-11-06T11:39","value":0},{"time":"2023-11-06T16:19","value":0},{"time":"2023-11-06T16:32","value":92},{"time":"2023-11-06T16:57","value":90},{"time":"2023-11-06T17:10","value":0},{"time":"2023-11-06T17:23","value":0},{"time":"2023-11-06T17:35","value":88},{"time":"2023-11-06T18:01","value":0},{"time":"2023-11-06T19:30","value":0},{"time":"2023-11-06T19:42","value":85},{"time":"2023-11-06T20:08","value":70},{"time":"2023-11-06T20:33","value":48},{"time":"2023-11-06T21:11","value":75},{"time":"2023-11-06T21:37","value":45},{"time":"2023-11-06T22:15","value":72},{"time":"2023-11-06T22:53","value":43},{"time":"2023-11-06T23:31","value":74},{"time":"2023-11-06T23:57","value":42},{"time":"2023-11-07T00:22","value":70},{"time":"2023-11-07T01:00","value":45},{"time":"2023-11-07T01:26","value":73},{"time":"2023-11-07T01:51","value":44},{"time":"2023-11-07T02:29","value":72},{"time":"2023-11-07T02:55","value":46},{"time":"2023-11-07T03:20","value":74},{"time":"2023-11-07T03:58","value":47},{"time":"2023-11-07T04:36","value":70},{"time":"2023-11-07T05:15","value":50},{"time":"2023-11-07T05:27","value":0},{"time":"2023-11-07T07:34","value":0},{"time":"2023-11-07T07:47","value":85},{"time":"2023-11-07T08:13","value":70},{"time":"2023-11-07T08:51","value":48},{"time":"2023-11-07T09:16","value":72},{"time":"2023-11-07T09:54","value":46},{"time":"2023-11-07T10:20","value":70},{"time":"2023-11-07T10:58","value":50},{"time":"2023-11-07T11:11","value":0},{"time":"2023-11-07T13:18","value":0},{"time":"2023-11-07T13:30","value":85},{"time":"2023-11-07T14:09","value":70},{"time":"2023-11-07T14:47","value":47},{"time":"2023-11-07T15:12","value":72},{"time":"2023-11-07T15:50","value":48},{"time":"2023-11-07T16:16","value":70},{"time":"2023-11-07T17:19","value":49},{"time":"2023-11-07T18:23","value":65},{"time":"2023-11-07T18:36","value":0},{"time":"2023-11-07T19:52","value":0},{"time":"2023-11-07T20:05","value":88},{"time":"2023-11-07T20:30","value":86},{"time":"2023-11-07T20:43","value":0},{"time":"2023-11-08T05:11","value":0},{"time":"2023-11-08T05:24","value":90},{"time":"2023-11-08T05:50","value":0},{"time":"2023-11-08T12:11","value":0},{"time":"2023-11-08T12:24","value":92},{"time":"2023-11-08T12:49","value":91},{"time":"2023-11-08T13:02","value":0},{"time":"2023-11-08T13:27","value":90},{"time":"2023-11-08T14:05","value":50},{"time":"2023-11-08T14:31","value":88},{"time":"2023-11-08T15:09","value":45},{"time":"2023-11-08T15:34","value":75},{"time":"2023-11-08T16:13","value":62},{"time":"2023-11-08T16:38","value":61},{"time":"2023-11-08T17:42","value":60.5},{"time":"2023-11-08T18:45","value":61.5},{"time":"2023-11-08T19:49","value":60},{"time":"2023-11-08T20:52","value":61},{"time":"2023-11-08T21:56","value":60.2},{"time":"2023-11-08T22:59","value":61.3},{"time":"2023-11-09T00:03","value":60},{"time":"2023-11-09T01:07","value":60.8},{"time":"2023-11-09T02:10","value":59.8},{"time":"2023-11-09T03:14","value":60.5},{"time":"2023-11-09T04:17","value":59.5},{"time":"2023-11-09T05:21","value":60.2},{"time":"2023-11-09T06:24","value":59},{"time":"2023-11-09T07:03","value":59.6},{"time":"2023-11-09T07:28","value":58.5},{"time":"2023-11-09T08:32","value":59.2},{"time":"2023-11-09T09:10","value":58.8},{"time":"2023-11-09T09:35","value":55},{"time":"2023-11-09T10:01","value":70},{"time":"2023-11-09T10:13","value":45},{"time":"2023-11-09T10:39","value":80},{"time":"2023-11-09T10:51","value":0},{"time":"2023-11-09T15:19","value":0},{"time":"2023-11-09T15:31","value":85},{"time":"2023-11-09T15:57","value":0},{"time":"2023-11-09T16:09","value":88},{"time":"2023-11-09T16:22","value":0},{"time":"2023-11-09T20:49","value":0},{"time":"2023-11-09T21:15","value":88},{"time":"2023-11-09T21:40","value":86},{"time":"2023-11-09T22:05","value":0},{"time":"2023-11-10T00:00","value":0}
  ]},
  "mark": {"type": "line", "color": "#ee1c24", "strokeWidth": 2, "strokeDash": [3, 1.2], "clip": true},
  "encoding": {"y": {"field": "value", "type": "quantitative", "scale": {"domain": [0, 100], "nice": false},
    "axis": {"orient": "left", "offset": 264, "title": "Pwr-Motor Amps Ph B", "values": [0,10,20,30,40,50,60,70,80,90,100], "labelColor": "#ff0000", "titleColor": "#ff1a1a"}}}
},
{
  "data": {"values": [
{"time":"2023-11-02T00:00","value":0},{"time":"2023-11-02T12:43","value":0},{"time":"2023-11-02T12:56","value":0.15},{"time":"2023-11-02T13:21","value":0.1},{"time":"2023-11-02T13:59","value":0.05},{"time":"2023-11-02T14:12","value":0},{"time":"2023-11-03T13:43","value":0},{"time":"2023-11-03T13:56","value":0.2},{"time":"2023-11-03T14:47","value":0.05},{"time":"2023-11-03T16:03","value":0.1},{"time":"2023-11-03T16:54","value":0.15},{"time":"2023-11-03T17:32","value":0.12},{"time":"2023-11-03T19:01","value":0.1},{"time":"2023-11-03T21:08","value":0.11},{"time":"2023-11-03T23:15","value":0.12},{"time":"2023-11-04T00:57","value":0.13},{"time":"2023-11-04T01:35","value":0.1},{"time":"2023-11-04T01:48","value":0},{"time":"2023-11-04T12:24","value":0},{"time":"2023-11-04T13:02","value":0.15},{"time":"2023-11-04T13:40","value":0.1},{"time":"2023-11-04T14:05","value":0},{"time":"2023-11-06T02:58","value":0},{"time":"2023-11-06T03:36","value":0.12},{"time":"2023-11-06T04:14","value":0},{"time":"2023-11-06T16:19","value":0},{"time":"2023-11-06T16:57","value":0.12},{"time":"2023-11-06T18:01","value":0},{"time":"2023-11-06T19:30","value":0},{"time":"2023-11-06T19:42","value":0.12},{"time":"2023-11-06T21:11","value":0.1},{"time":"2023-11-06T23:19","value":0.12},{"time":"2023-11-07T01:26","value":0.1},{"time":"2023-11-07T03:33","value":0.11},{"time":"2023-11-07T05:15","value":0.1},{"time":"2023-11-07T05:27","value":0},{"time":"2023-11-07T07:34","value":0},{"time":"2023-11-07T07:47","value":0.1},{"time":"2023-11-07T10:58","value":0.1},{"time":"2023-11-07T11:11","value":0},{"time":"2023-11-07T13:18","value":0},{"time":"2023-11-07T13:30","value":0.12},{"time":"2023-11-07T16:16","value":0.1},{"time":"2023-11-07T18:23","value":0.1},{"time":"2023-11-07T18:36","value":0},{"time":"2023-11-08T12:11","value":0},{"time":"2023-11-08T12:24","value":0.1},{"time":"2023-11-08T13:27","value":0.15},{"time":"2023-11-08T14:31","value":0.12},{"time":"2023-11-08T16:13","value":0.08},{"time":"2023-11-08T18:45","value":0.07},{"time":"2023-11-08T20:52","value":0.08},{"time":"2023-11-09T00:03","value":0.07},{"time":"2023-11-09T03:14","value":0.08},{"time":"2023-11-09T06:24","value":0.07},{"time":"2023-11-09T09:10","value":0.09},{"time":"2023-11-09T09:35","value":0.12},{"time":"2023-11-09T10:39","value":0.05},{"time":"2023-11-09T10:51","value":0},{"time":"2023-11-10T00:00","value":0}
  ]},
  "mark": {"type": "line", "color": "#3da53d", "strokeWidth": 1.3, "clip": true},
  "encoding": {"y": {"field": "value", "type": "quantitative", "scale": {"domain": [0, 10], "nice": false},
    "axis": {"orient": "left", "offset": 169, "title": "Vib-Pump Y axis", "values": [0,1,2,3,4,5,6,7,8,9,10], "labelColor": "#1e8a1e", "titleColor": "#2e9a2e"}}}
},
{
  "data": {"values": [
{"time":"2023-11-02T00:00","value":0},{"time":"2023-11-02T12:43","value":0},{"time":"2023-11-02T12:56","value":0.45},{"time":"2023-11-02T13:21","value":0.3},{"time":"2023-11-02T13:34","value":0.1},{"time":"2023-11-02T13:59","value":0.2},{"time":"2023-11-02T14:12","value":0},{"time":"2023-11-02T16:06","value":0},{"time":"2023-11-02T16:19","value":0.25},{"time":"2023-11-02T16:45","value":0},{"time":"2023-11-02T18:13","value":0},{"time":"2023-11-02T18:26","value":0.3},{"time":"2023-11-02T18:52","value":0.2},{"time":"2023-11-02T19:04","value":0},{"time":"2023-11-03T13:43","value":0},{"time":"2023-11-03T13:56","value":0.55},{"time":"2023-11-03T14:21","value":0.4},{"time":"2023-11-03T14:47","value":0.1},{"time":"2023-11-03T15:12","value":0.3},{"time":"2023-11-03T15:50","value":0.05},{"time":"2023-11-03T16:03","value":0.3},{"time":"2023-11-03T16:29","value":0.1},{"time":"2023-11-03T16:54","value":0.5},{"time":"2023-11-03T17:32","value":0.35},{"time":"2023-11-03T17:58","value":0.38},{"time":"2023-11-03T18:23","value":0.3},{"time":"2023-11-03T19:01","value":0.28},{"time":"2023-11-03T19:39","value":0.27},{"time":"2023-11-03T20:17","value":0.25},{"time":"2023-11-03T20:56","value":0.28},{"time":"2023-11-03T21:34","value":0.26},{"time":"2023-11-03T22:12","value":0.3},{"time":"2023-11-03T22:50","value":0.33},{"time":"2023-11-03T23:15","value":0.3},{"time":"2023-11-03T23:54","value":0.38},{"time":"2023-11-04T00:19","value":0.32},{"time":"2023-11-04T00:57","value":0.36},{"time":"2023-11-04T01:35","value":0.3},{"time":"2023-11-04T01:48","value":0},{"time":"2023-11-04T12:24","value":0},{"time":"2023-11-04T12:36","value":0.3},{"time":"2023-11-04T13:02","value":0.45},{"time":"2023-11-04T13:15","value":0.2},{"time":"2023-11-04T13:40","value":0.3},{"time":"2023-11-04T13:53","value":0.1},{"time":"2023-11-04T14:05","value":0},{"time":"2023-11-06T02:58","value":0},{"time":"2023-11-06T03:11","value":0.3},{"time":"2023-11-06T03:36","value":0.45},{"time":"2023-11-06T04:02","value":0.2},{"time":"2023-11-06T04:14","value":0},{"time":"2023-11-06T11:01","value":0},{"time":"2023-11-06T11:14","value":0.2},{"time":"2023-11-06T11:27","value":0.1},{"time":"2023-11-06T11:39","value":0},{"time":"2023-11-06T16:19","value":0},{"time":"2023-11-06T16:32","value":0.35},{"time":"2023-11-06T16:57","value":0.45},{"time":"2023-11-06T17:10","value":0.2},{"time":"2023-11-06T17:35","value":0.3},{"time":"2023-11-06T18:01","value":0},{"time":"2023-11-06T19:30","value":0},{"time":"2023-11-06T19:42","value":0.3},{"time":"2023-11-06T20:08","value":0.25},{"time":"2023-11-06T20:33","value":0.2},{"time":"2023-11-06T21:11","value":0.28},{"time":"2023-11-06T21:37","value":0.22},{"time":"2023-11-06T22:15","value":0.3},{"time":"2023-11-06T22:40","value":0.24},{"time":"2023-11-06T22:53","value":1.55},{"time":"2023-11-06T23:06","value":0.25},{"time":"2023-11-06T23:31","value":0.3},{"time":"2023-11-06T23:57","value":0.22},{"time":"2023-11-07T00:22","value":0.28},{"time":"2023-11-07T01:00","value":0.2},{"time":"2023-11-07T01:26","value":0.3},{"time":"2023-11-07T01:51","value":0.22},{"time":"2023-11-07T02:29","value":0.28},{"time":"2023-11-07T02:55","value":0.2},{"time":"2023-11-07T03:20","value":0.3},{"time":"2023-11-07T03:58","value":0.22},{"time":"2023-11-07T04:36","value":0.28},{"time":"2023-11-07T05:15","value":0.25},{"time":"2023-11-07T05:27","value":0},{"time":"2023-11-07T07:34","value":0},{"time":"2023-11-07T07:47","value":0.3},{"time":"2023-11-07T08:13","value":0.22},{"time":"2023-11-07T08:51","value":0.28},{"time":"2023-11-07T09:16","value":0.2},{"time":"2023-11-07T09:54","value":0.27},{"time":"2023-11-07T10:20","value":0.22},{"time":"2023-11-07T10:58","value":0.25},{"time":"2023-11-07T11:11","value":0},{"time":"2023-11-07T13:18","value":0},{"time":"2023-11-07T13:30","value":0.35},{"time":"2023-11-07T14:09","value":0.25},{"time":"2023-11-07T14:47","value":0.2},{"time":"2023-11-07T15:12","value":0.28},{"time":"2023-11-07T15:50","value":0.22},{"time":"2023-11-07T16:16","value":0.26},{"time":"2023-11-07T17:19","value":0.2},{"time":"2023-11-07T18:23","value":0.24},{"time":"2023-11-07T18:36","value":0},{"time":"2023-11-07T19:52","value":0},{"time":"2023-11-07T20:05","value":0.35},{"time":"2023-11-07T20:30","value":0.25},{"time":"2023-11-07T20:43","value":0},{"time":"2023-11-08T05:11","value":0},{"time":"2023-11-08T05:24","value":0.15},{"time":"2023-11-08T05:50","value":0},{"time":"2023-11-08T12:11","value":0},{"time":"2023-11-08T12:24","value":0.3},{"time":"2023-11-08T12:49","value":0.25},{"time":"2023-11-08T13:02","value":0},{"time":"2023-11-08T13:27","value":0.45},{"time":"2023-11-08T14:05","value":0.3},{"time":"2023-11-08T14:31","value":0.4},{"time":"2023-11-08T15:09","value":0.25},{"time":"2023-11-08T15:34","value":0.35},{"time":"2023-11-08T16:13","value":0.22},{"time":"2023-11-08T16:38","value":0.25},{"time":"2023-11-08T17:42","value":0.2},{"time":"2023-11-08T18:45","value":0.24},{"time":"2023-11-08T19:49","value":0.19},{"time":"2023-11-08T20:52","value":0.23},{"time":"2023-11-08T21:56","value":0.2},{"time":"2023-11-08T22:59","value":0.25},{"time":"2023-11-09T00:03","value":0.21},{"time":"2023-11-09T01:07","value":0.24},{"time":"2023-11-09T02:10","value":0.2},{"time":"2023-11-09T03:14","value":0.23},{"time":"2023-11-09T04:17","value":0.2},{"time":"2023-11-09T05:21","value":0.22},{"time":"2023-11-09T06:24","value":0.24},{"time":"2023-11-09T07:28","value":0.2},{"time":"2023-11-09T08:32","value":0.23},{"time":"2023-11-09T09:10","value":0.28},{"time":"2023-11-09T09:35","value":0.3},{"time":"2023-11-09T10:01","value":0.2},{"time":"2023-11-09T10:39","value":0.1},{"time":"2023-11-09T10:51","value":0},{"time":"2023-11-09T15:19","value":0},{"time":"2023-11-09T15:31","value":0.05},{"time":"2023-11-09T15:57","value":0},{"time":"2023-11-09T20:49","value":0},{"time":"2023-11-09T21:15","value":0.25},{"time":"2023-11-09T21:40","value":0.2},{"time":"2023-11-09T22:05","value":0},{"time":"2023-11-10T00:00","value":0}
  ]},
  "mark": {"type": "line", "color": "#1f8a1f", "strokeWidth": 1.4, "clip": true},
  "encoding": {"y": {"field": "value", "type": "quantitative", "scale": {"domain": [0, 10], "nice": false},
    "axis": {"orient": "left", "offset": 216, "title": "Vib-Pump X axis", "values": [0,1,2,3,4,5,6,7,8,9,10], "labelColor": "#1e8a1e", "titleColor": "#2e9a2e"}}}
},
{
  "data": {"values": [
{"time":"2023-11-02T11:39","label":"SD"},{"time":"2023-11-02T14:25","label":"SD"},{"time":"2023-11-02T17:10","label":"SD"},{"time":"2023-11-03T12:14","label":"SD"},{"time":"2023-11-03T23:28","label":"SD"},{"time":"2023-11-04T11:46","label":"SD"},{"time":"2023-11-06T01:42","label":"SD"},{"time":"2023-11-06T09:32","label":"SD"},{"time":"2023-11-06T15:41","label":"SD"},{"time":"2023-11-07T03:20","label":"SD"},{"time":"2023-11-07T06:56","label":"SD"},{"time":"2023-11-07T11:11","label":"SD"},{"time":"2023-11-07T18:23","label":"SD"},{"time":"2023-11-08T03:17","label":"SD"},{"time":"2023-11-09T08:57","label":"SD"},{"time":"2023-11-09T14:15","label":"SD"},{"time":"2023-11-09T20:11","label":"SD"}
  ]},
  "encoding": {"y": {"datum": 492, "type": "quantitative", "scale": {"domain": [0, 500], "nice": false}, "axis": null}},
  "layer": [
    {"mark": {"type": "point", "shape": "M-1,-0.92L1,-0.92L1,0.92L-1,0.92Z", "filled": true, "size": 256, "color": "#62a4e2", "opacity": 1, "strokeWidth": 0}},
    {"mark": {"type": "text", "font": "Open Sans", "fontSize": 10, "fontWeight": "bold", "color": "#1d5fa6", "align": "center", "baseline": "middle"}, "encoding": {"text": {"field": "label"}}}
  ]
}
]
}
